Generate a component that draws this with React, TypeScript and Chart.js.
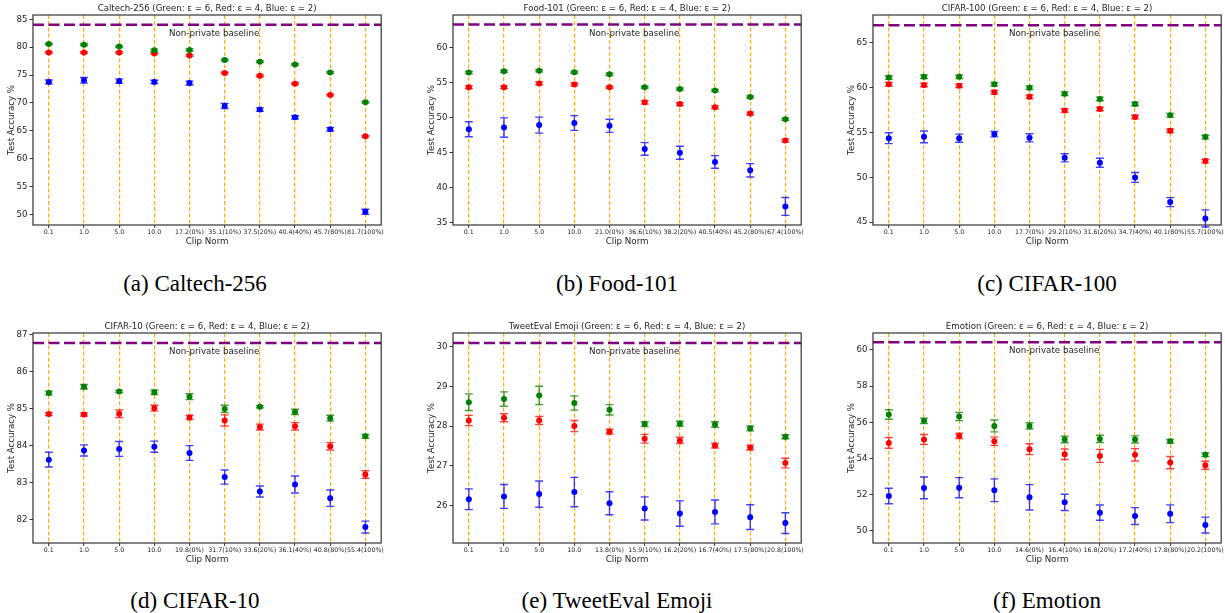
import React, { useEffect, useRef } from 'react';
import { Chart, registerables } from 'chart.js';

Chart.register(...registerables);

const FONT = '"DejaVu Sans", sans-serif';

// ---------- shared ----------
const xIdx = [0, 1, 2, 3, 4, 5, 6, 7, 8, 9];
const xLimits = [-0.45, 9.45];

// ---------- (a) Caltech-256 ----------
const caltechLabels = ['0.1', '1.0', '5.0', '10.0', '17.2(0%)', '35.1(10%)', '37.5(20%)', '40.4(40%)', '45.7(80%)', '81.7(100%)'];
const caltechGreen = [80.55, 80.45, 80.1, 79.45, 79.5, 77.7, 77.4, 76.9, 75.45, 70.1];
const caltechGreenErr = [0.15, 0.15, 0.15, 0.2, 0.2, 0.15, 0.15, 0.15, 0.15, 0.15];
const caltechRed = [79.05, 79.05, 79.05, 78.85, 78.5, 75.35, 74.85, 73.45, 71.4, 64.0];
const caltechRedErr = [0.15, 0.15, 0.15, 0.15, 0.15, 0.15, 0.15, 0.15, 0.15, 0.15];
const caltechBlue = [73.75, 74.05, 73.9, 73.75, 73.55, 69.45, 68.8, 67.4, 65.25, 50.45];
const caltechBlueErr = [0.35, 0.5, 0.4, 0.3, 0.35, 0.45, 0.3, 0.3, 0.3, 0.45];
const caltechBaseline = 84.0;
const caltechYRange = [48.08, 85.77];
const caltechYTicks = [50, 55, 60, 65, 70, 75, 80, 85];

// ---------- (b) Food-101 ----------
const foodLabels = ['0.1', '1.0', '5.0', '10.0', '21.0(0%)', '36.6(10%)', '38.2(20%)', '40.5(40%)', '45.2(80%)', '67.4(100%)'];
const foodGreen = [56.45, 56.65, 56.7, 56.5, 56.2, 54.35, 54.1, 53.9, 52.95, 49.8];
const foodGreenErr = [0.15, 0.15, 0.15, 0.15, 0.15, 0.15, 0.15, 0.15, 0.15, 0.15];
const foodRed = [54.35, 54.35, 54.9, 54.75, 54.35, 52.2, 51.95, 51.5, 50.6, 46.75];
const foodRedErr = [0.2, 0.2, 0.2, 0.2, 0.15, 0.25, 0.2, 0.2, 0.2, 0.2];
const foodBlue = [48.35, 48.6, 48.95, 49.25, 48.85, 45.55, 45.0, 43.7, 42.5, 37.35];
const foodBlueErr = [1.07, 1.38, 1.14, 1.05, 0.93, 0.9, 0.93, 0.9, 0.95, 1.28];
const foodBaseline = 63.3;
const foodYRange = [34.7, 64.66];
const foodYTicks = [35, 40, 45, 50, 55, 60];

// ---------- (c) CIFAR-100 ----------
const c100Labels = ['0.1', '1.0', '5.0', '10.0', '17.7(0%)', '29.2(10%)', '31.6(20%)', '34.7(40%)', '40.1(80%)', '55.7(100%)'];
const c100Green = [61.1, 61.2, 61.2, 60.35, 59.97, 59.3, 58.72, 58.16, 56.9, 54.47];
const c100GreenErr = [0.2, 0.2, 0.2, 0.2, 0.2, 0.2, 0.2, 0.2, 0.2, 0.2];
const c100Red = [60.36, 60.28, 60.2, 59.46, 58.95, 57.42, 57.6, 56.7, 55.18, 51.8];
const c100RedErr = [0.2, 0.2, 0.2, 0.2, 0.2, 0.2, 0.2, 0.2, 0.2, 0.2];
const c100Blue = [54.35, 54.5, 54.35, 54.8, 54.39, 52.17, 51.62, 49.98, 47.24, 45.42];
const c100BlueErr = [0.6, 0.65, 0.45, 0.3, 0.45, 0.45, 0.5, 0.55, 0.5, 0.95];
const c100Baseline = 66.93;
const c100YRange = [44.69, 68.06];
const c100YTicks = [45, 50, 55, 60, 65];

// ---------- (d) CIFAR-10 ----------
const c10Labels = ['0.1', '1.0', '5.0', '10.0', '19.8(0%)', '31.7(10%)', '33.6(20%)', '36.1(40%)', '40.8(80%)', '55.4(100%)'];
const c10Green = [85.42, 85.59, 85.46, 85.44, 85.32, 84.99, 85.05, 84.91, 84.74, 84.25];
const c10GreenErr = [0.05, 0.06, 0.03, 0.06, 0.08, 0.1, 0.03, 0.07, 0.08, 0.05];
const c10Red = [84.85, 84.84, 84.86, 85.01, 84.76, 84.68, 84.5, 84.52, 83.98, 83.22];
const c10RedErr = [0.04, 0.04, 0.1, 0.08, 0.06, 0.15, 0.08, 0.1, 0.1, 0.1];
const c10Blue = [83.62, 83.87, 83.91, 83.97, 83.8, 83.15, 82.76, 82.95, 82.58, 81.8];
const c10BlueErr = [0.2, 0.15, 0.2, 0.15, 0.2, 0.19, 0.15, 0.23, 0.22, 0.16];
const c10Baseline = 86.77;
const c10YRange = [81.37, 87.04];
const c10YTicks = [82, 83, 84, 85, 86, 87];

// ---------- (e) TweetEval Emoji ----------
const tweetLabels = ['0.1', '1.0', '5.0', '10.0', '13.8(0%)', '15.9(10%)', '16.2(20%)', '16.7(40%)', '17.5(80%)', '20.8(100%)'];
const tweetGreen = [28.6, 28.68, 28.77, 28.58, 28.41, 28.05, 28.06, 28.04, 27.94, 27.73];
const tweetGreenErr = [0.21, 0.18, 0.23, 0.18, 0.13, 0.06, 0.06, 0.07, 0.06, 0.05];
const tweetRed = [28.14, 28.21, 28.14, 28.0, 27.86, 27.68, 27.64, 27.51, 27.46, 27.07];
const tweetRedErr = [0.13, 0.1, 0.1, 0.14, 0.06, 0.11, 0.08, 0.06, 0.06, 0.12];
const tweetBlue = [26.16, 26.23, 26.29, 26.34, 26.06, 25.93, 25.8, 25.84, 25.71, 25.56];
const tweetBlueErr = [0.26, 0.3, 0.33, 0.37, 0.29, 0.29, 0.32, 0.3, 0.31, 0.26];
const tweetBaseline = 30.09;
const tweetYRange = [25.06, 30.34];
const tweetYTicks = [26, 27, 28, 29, 30];

// ---------- (f) Emotion ----------
const emoLabels = ['0.1', '1.0', '5.0', '10.0', '14.6(0%)', '16.4(10%)', '16.8(20%)', '17.2(40%)', '17.8(80%)', '20.2(100%)'];
const emoGreen = [56.43, 56.08, 56.32, 55.8, 55.8, 55.05, 55.08, 55.05, 54.95, 54.2];
const emoGreenErr = [0.26, 0.15, 0.23, 0.33, 0.17, 0.18, 0.2, 0.2, 0.1, 0.1];
const emoRed = [54.86, 55.05, 55.25, 54.95, 54.51, 54.23, 54.14, 54.2, 53.77, 53.62];
const emoRedErr = [0.3, 0.27, 0.15, 0.23, 0.3, 0.29, 0.36, 0.34, 0.34, 0.22];
const emoBlue = [51.92, 52.37, 52.38, 52.24, 51.85, 51.57, 51.0, 50.81, 50.94, 50.31];
const emoBlueErr = [0.43, 0.6, 0.56, 0.63, 0.7, 0.45, 0.42, 0.47, 0.49, 0.44];
const emoBaseline = 60.43;
const emoYRange = [49.32, 60.94];
const emoYTicks = [50, 52, 54, 56, 58, 60];

const titleSuffix = ' (Green: ε = 6, Red: ε = 4, Blue: ε = 2)';

type PanelDef = {
  name: string;
  caption: string;
  labels: string[];
  green: number[]; greenErr: number[];
  red: number[]; redErr: number[];
  blue: number[]; blueErr: number[];
  baseline: number;
  yRange: number[];
  yTicks: number[];
};

const panels: PanelDef[] = [
  { name: 'Caltech-256', caption: '(a) Caltech-256', labels: caltechLabels, green: caltechGreen, greenErr: caltechGreenErr, red: caltechRed, redErr: caltechRedErr, blue: caltechBlue, blueErr: caltechBlueErr, baseline: caltechBaseline, yRange: caltechYRange, yTicks: caltechYTicks },
  { name: 'Food-101', caption: '(b) Food-101', labels: foodLabels, green: foodGreen, greenErr: foodGreenErr, red: foodRed, redErr: foodRedErr, blue: foodBlue, blueErr: foodBlueErr, baseline: foodBaseline, yRange: foodYRange, yTicks: foodYTicks },
  { name: 'CIFAR-100', caption: '(c) CIFAR-100', labels: c100Labels, green: c100Green, greenErr: c100GreenErr, red: c100Red, redErr: c100RedErr, blue: c100Blue, blueErr: c100BlueErr, baseline: c100Baseline, yRange: c100YRange, yTicks: c100YTicks },
  { name: 'CIFAR-10', caption: '(d) CIFAR-10', labels: c10Labels, green: c10Green, greenErr: c10GreenErr, red: c10Red, redErr: c10RedErr, blue: c10Blue, blueErr: c10BlueErr, baseline: c10Baseline, yRange: c10YRange, yTicks: c10YTicks },
  { name: 'TweetEval Emoji', caption: '(e) TweetEval Emoji', labels: tweetLabels, green: tweetGreen, greenErr: tweetGreenErr, red: tweetRed, redErr: tweetRedErr, blue: tweetBlue, blueErr: tweetBlueErr, baseline: tweetBaseline, yRange: tweetYRange, yTicks: tweetYTicks },
  { name: 'Emotion', caption: '(f) Emotion', labels: emoLabels, green: emoGreen, greenErr: emoGreenErr, red: emoRed, redErr: emoRedErr, blue: emoBlue, blueErr: emoBlueErr, baseline: emoBaseline, yRange: emoYRange, yTicks: emoYTicks },
];

// layout (page pixels)
const canvasLefts = [-7, 413, 833];
const canvasTops = [0, 318];
const CANVAS_W = 392;
const CANVAS_H = 251;
const captionCenters = [195, 617, 1047];
const captionTops = [271, 588];

const errorBarPlugin = {
  id: 'errbars',
  beforeDatasetsDraw(chart: any) {
    const { ctx } = chart;
    const xs = chart.scales.x;
    const ys = chart.scales.y;
    chart.data.datasets.forEach((ds: any) => {
      const errs: number[] | undefined = ds.errors;
      if (!errs) return;
      ctx.save();
      ctx.strokeStyle = ds.errColor;
      ctx.lineWidth = 1.4;
      ds.data.forEach((p: any, j: number) => {
        const px = xs.getPixelForValue(p.x);
        const y1 = ys.getPixelForValue(p.y - errs[j]);
        const y2 = ys.getPixelForValue(p.y + errs[j]);
        ctx.beginPath();
        ctx.moveTo(px, y1); ctx.lineTo(px, y2);
        ctx.moveTo(px - 4, y1); ctx.lineTo(px + 4, y1);
        ctx.moveTo(px - 4, y2); ctx.lineTo(px + 4, y2);
        ctx.stroke();
      });
      ctx.restore();
    });
  },
};

const framePlugin = {
  id: 'frame',
  afterDatasetsDraw(chart: any, _args: any, opts: any) {
    const { ctx, chartArea: a } = chart;
    const xs = chart.scales.x;
    const ys = chart.scales.y;
    ctx.save();
    ctx.font = `8.7px ${FONT}`;
    ctx.fillStyle = '#222';
    ctx.textAlign = 'center';
    ctx.textBaseline = 'middle';
    ctx.fillText('Non-private baseline', xs.getPixelForValue(opts.labelX), ys.getPixelForValue(opts.baseline) + 9);
    ctx.strokeStyle = '#333';
    ctx.lineWidth = 1.2;
    ctx.strokeRect(a.left, a.top, a.right - a.left, a.bottom - a.top);
    ctx.restore();
  },
};

function pts(vals: number[]) {
  return vals.map((v, i) => ({ x: xIdx[i], y: v }));
}

function PanelChart({ p, left, top }: { p: PanelDef; left: number; top: number }) {
  const ref = useRef<HTMLCanvasElement>(null);
  useEffect(() => {
    const chart = new Chart(ref.current as HTMLCanvasElement, {
      type: 'scatter',
      data: {
        datasets: [
          { data: pts(p.green), errors: p.greenErr, errColor: 'rgba(0,128,0,0.75)', backgroundColor: '#008000', pointRadius: 3, pointBorderWidth: 0 } as any,
          { data: pts(p.red), errors: p.redErr, errColor: 'rgba(255,0,0,0.75)', backgroundColor: '#ff0000', pointRadius: 3, pointBorderWidth: 0 } as any,
          { data: pts(p.blue), errors: p.blueErr, errColor: 'rgba(0,0,255,0.75)', backgroundColor: '#0000ff', pointRadius: 3, pointBorderWidth: 0 } as any,
          {
            type: 'line',
            data: [{ x: xLimits[0], y: p.baseline }, { x: xLimits[1], y: p.baseline }],
            borderColor: '#800080', borderWidth: 2.5, borderDash: [11, 4.5], pointRadius: 0, fill: false,
          } as any,
        ],
      },
      options: {
        responsive: false,
        animation: false,
        events: [],
        layout: { padding: 0, autoPadding: false } as any,
        plugins: {
          legend: { display: false },
          tooltip: { enabled: false },
          title: {
            display: true,
            fullSize: false,
            text: p.name + titleSuffix,
            color: '#222',
            font: { family: FONT, size: 8.6, weight: 'normal' as any },
            padding: { top: 3.3, bottom: 1.38 },
          },
          frame: { baseline: p.baseline, labelX: 4.7 },
        } as any,
        scales: {
          x: {
            type: 'linear',
            min: xLimits[0],
            max: xLimits[1],
            afterBuildTicks: (s: any) => { s.ticks = xIdx.map((v) => ({ value: v })); },
            afterFit: (s: any) => { s.height = 26; },
            ticks: {
              autoSkip: false, maxRotation: 0, minRotation: 0,
              font: { family: FONT, size: 6.3 }, color: '#222', padding: 1,
              callback: (v: any) => p.labels[Math.round(Number(v))],
            },
            grid: {
              color: 'rgba(255,165,0,0.95)', lineWidth: 1.2, drawOnChartArea: true,
              tickLength: 3, tickColor: '#333', tickWidth: 1,
            },
            border: { display: false, dash: [4, 2.2] },
            title: {
              display: true, text: 'Clip Norm', color: '#222',
              font: { family: FONT, size: 8.7 }, padding: { top: 0, bottom: 4.1 },
            },
          },
          y: {
            type: 'linear',
            min: p.yRange[0],
            max: p.yRange[1],
            afterBuildTicks: (s: any) => { s.ticks = p.yTicks.map((v) => ({ value: v })); },
            afterFit: (s: any) => { s.width = 40; },
            ticks: {
              font: { family: FONT, size: 8.6 }, color: '#222', padding: 2,
              callback: (v: any) => String(v),
            },
            grid: { drawOnChartArea: false, tickLength: 3.5, tickColor: '#333', tickWidth: 1 },
            border: { display: false },
            title: {
              display: true, text: 'Test Accuracy %', color: '#222',
              font: { family: FONT, size: 8.6 }, padding: { top: 13.8, bottom: 0 },
            },
          },
        } as any,
      },
      plugins: [errorBarPlugin, framePlugin] as any,
    });
    return () => chart.destroy();
  }, []);
  return (
    <canvas
      ref={ref}
      width={CANVAS_W}
      height={CANVAS_H}
      style={{ position: 'absolute', left, top, width: CANVAS_W, height: CANVAS_H }}
    />
  );
}

export default function App() {
  return (
    <div style={{ position: 'absolute', left: 0, top: 0, width: 1225, height: 613, overflow: 'hidden', background: '#fff' }}>
      {panels.map((p, i) => {
        const col = i % 3;
        const row = Math.floor(i / 3);
        return <PanelChart key={p.name} p={p} left={canvasLefts[col]} top={canvasTops[row]} />;
      })}
      {panels.map((p, i) => {
        const col = i % 3;
        const row = Math.floor(i / 3);
        return (
          <div
            key={'cap' + i}
            style={{
              position: 'absolute', left: captionCenters[col] - 200, top: captionTops[row], width: 400,
              textAlign: 'center', fontFamily: '"Liberation Serif", "Times New Roman", serif',
              fontSize: 23, lineHeight: 'normal', color: '#000', whiteSpace: 'nowrap',
            }}
          >
            {p.caption}
          </div>
        );
      })}
    </div>
  );
}
